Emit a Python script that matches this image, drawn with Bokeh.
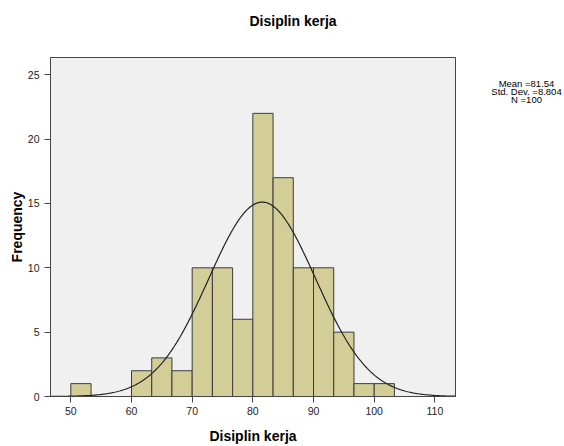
import numpy as np
from bokeh.plotting import figure
from bokeh.layouts import row
from bokeh.models import Range1d, FixedTicker, ColumnDataSource
from bokeh.core.properties import value
from bokeh.embed import file_html
from bokeh.resources import INLINE

# ---- data ----
title_text = "Disiplin kerja"
x_label = "Disiplin kerja"
y_label = "Frequency"
bin_lower = [50.0, 60.0, 63.333, 66.667, 70.0, 73.333, 76.667, 80.0, 83.333, 86.667, 90.0, 93.333, 96.667, 100.0]
counts = [1, 2, 3, 2, 10, 10, 6, 22, 17, 10, 10, 5, 1, 1]
bin_width = 3.3333
mean_val = 81.54
std_val = 8.804
n_val = 100
x_ticks = [50, 60, 70, 80, 90, 100, 110]
y_ticks = [0, 5, 10, 15, 20, 25]
stats_lines = ["Mean =81.54", "Std. Dev. =8.804", "N =100"]

FONT = "Liberation Sans"

yr = Range1d(0, 26.34)
p = figure(width=460, height=446, output_backend="svg", toolbar_location=None,
           x_range=Range1d(46.65, 113.4), y_range=yr,
           min_border_left=50, min_border_right=5, min_border_top=57, min_border_bottom=46)
p.background_fill_color = "#F0F0F0"
p.border_fill_color = "white"
p.outline_line_color = "#444444"
p.outline_line_width = 1
p.xgrid.visible = False
p.ygrid.visible = False

# a blank second line lifts the title higher above the frame
p.title.text = title_text + "\n "
p.title.align = "left"
p.title.offset = 199
p.title.vertical_align = "top"
p.title.text_font = FONT
p.title.text_font_style = "bold"
p.title.text_font_size = "14px"
p.title.text_color = "black"
p.title.standoff = 21

src = ColumnDataSource(dict(left=bin_lower,
                            right=[b + bin_width for b in bin_lower],
                            top=counts, bottom=[0] * len(counts)))
p.quad(left="left", right="right", top="top", bottom="bottom", source=src,
       fill_color="#D3CE98", line_color="#3C3C3C", line_width=1)

xs = np.linspace(46.65, 113.4, 400)
ys = n_val * bin_width * np.exp(-0.5 * ((xs - mean_val) / std_val) ** 2) / (std_val * np.sqrt(2 * np.pi))
p.line(xs, ys, line_color="#222222", line_width=1.2)

for ax in (p.xaxis[0], p.yaxis[0]):
    ax.axis_line_color = "#444444"
    ax.major_tick_line_color = "#444444"
    ax.minor_tick_line_color = None
    ax.major_tick_out = 6
    ax.major_tick_in = 0
    ax.major_label_text_font = FONT
    ax.major_label_text_font_size = "10.5px"
    ax.major_label_text_color = "#222222"
    ax.axis_label_text_font = FONT
    ax.axis_label_text_font_style = "bold"
    ax.axis_label_text_font_size = "14px"
    ax.axis_label_text_color = "black"

p.xaxis.ticker = FixedTicker(ticks=x_ticks)
p.yaxis.ticker = FixedTicker(ticks=y_ticks)
p.xaxis.axis_label = x_label
p.yaxis.axis_label = y_label
p.xaxis.major_label_standoff = 4
p.yaxis.major_label_standoff = 5
p.xaxis.axis_label_standoff = 10
p.yaxis.axis_label_standoff = 0

# side panel with the summary statistics (shares the vertical scale of the histogram)
p2 = figure(width=104, height=446, output_backend="svg", toolbar_location=None,
            x_range=Range1d(0, 104), y_range=yr,
            x_axis_type=None, y_axis_type=None,
            min_border_left=0, min_border_right=0, min_border_top=57, min_border_bottom=46)
p2.outline_line_color = None
p2.background_fill_color = "white"
p2.border_fill_color = "white"
p2.xgrid.visible = False
p2.ygrid.visible = False
stat_src = ColumnDataSource(dict(x=[66, 66, 66], y=[24.29, 23.67, 23.09], text=stats_lines))
p2.text(x="x", y="y", text="text", source=stat_src, text_font=value(FONT),
        text_font_size="9.5px", text_align="center", text_baseline="middle", text_color="black")

layout = row(p, p2, spacing=0)
open("out.html", "w").write(file_html(layout, INLINE))
